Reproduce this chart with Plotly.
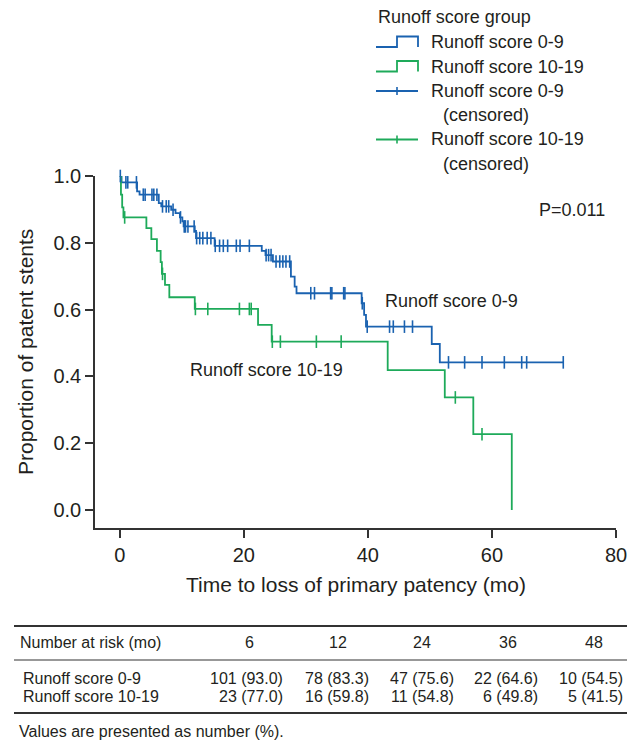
import plotly.graph_objects as go

# ---------------- data ----------------
# Runoff score 0-9: event step times (mo) and survival after each step
blue_t = [0, 0.3, 2.8, 3.2, 6.3, 6.7, 8.3, 9.0, 9.7, 10.1, 10.3, 12.1, 12.3, 15.3,
          22.9, 23.5, 24.7, 27.6, 28.2, 28.5, 39.0, 39.4, 39.7, 50.3, 51.6]
blue_s = [1.0, 0.981, 0.954, 0.944, 0.919, 0.909, 0.899, 0.889, 0.876, 0.864, 0.849,
          0.836, 0.814, 0.791, 0.776, 0.763, 0.744, 0.699, 0.669, 0.649, 0.619, 0.584,
          0.549, 0.497, 0.442]
blue_end = 71.5
blue_cens = [0.1, 1.0, 1.3, 2.7, 3.8, 4.1, 5.2, 5.5, 6.0, 6.9, 7.5, 7.9, 8.6, 9.8,
             10.4, 10.6, 11.0, 12.0, 12.4, 12.9, 13.4, 14.1, 14.7, 15.4, 16.1, 16.7,
             17.4, 18.8, 19.4, 20.9, 23.6, 24.0, 24.4, 25.2, 25.8, 26.3, 26.8, 27.4,
             30.8, 31.4, 34.0, 34.2, 36.1, 36.3, 39.1, 39.9, 43.5, 44.1, 45.9, 47.2,
             53.0, 55.6, 58.4, 62.0, 64.8, 65.6, 71.5]

# Runoff score 10-19
green_t = [0, 0.2, 0.4, 0.6, 4.3, 5.1, 6.0, 6.6, 6.8, 7.3, 8.0, 12.1, 22.3, 24.5,
           43.2, 52.4, 57.0, 63.2]
green_s = [1.0, 0.944, 0.906, 0.876, 0.844, 0.811, 0.776, 0.742, 0.707, 0.674, 0.637,
           0.602, 0.554, 0.504, 0.419, 0.337, 0.227, 0.0]
green_cens = [0.8, 6.9, 12.2, 14.2, 19.3, 20.9, 21.2, 24.6, 25.9, 31.7, 35.7, 54.1, 58.4]

x_ticks = [0, 20, 40, 60, 80]
y_ticks = [0.0, 0.2, 0.4, 0.6, 0.8, 1.0]

group_names = ["Runoff score 0-9", "Runoff score 10-19"]
risk_times = [6, 12, 24, 36, 48]
risk_n_09 = [101, 78, 47, 22, 10]
risk_pct_09 = [93.0, 83.3, 75.6, 64.6, 54.5]
risk_n_1019 = [23, 16, 11, 6, 5]
risk_pct_1019 = [77.0, 59.8, 54.8, 49.8, 41.5]
p_text = "P=0.011"

# ---------------- style ----------------
BLUE = "#1a62b0"
GREEN = "#1eaa5a"
AXC = "#333333"
TXT = "#231f20"
FONT = "Arial, Liberation Sans, sans-serif"

W, H = 640, 743
L, R, T, B = 95, 616, 176, 528


def px(x):
    return (x - L) / (R - L)


def py(y):
    return (B - y) / (B - T)


def surv_at(ts, ss, t):
    v = ss[0]
    for ti, si in zip(ts, ss):
        if ti <= t:
            v = si
    return v


fig = go.Figure()
fig.add_trace(go.Scatter(x=blue_t + [blue_end], y=blue_s + [blue_s[-1]], mode="lines",
                         line=dict(color=BLUE, width=1.8, shape="hv"),
                         cliponaxis=False, showlegend=False))
fig.add_trace(go.Scatter(x=green_t, y=green_s, mode="lines",
                         line=dict(color=GREEN, width=1.8, shape="hv"),
                         cliponaxis=False, showlegend=False))
fig.add_trace(go.Scatter(x=blue_cens, y=[surv_at(blue_t, blue_s, t) for t in blue_cens],
                         mode="markers",
                         marker=dict(symbol="line-ns", size=9, line=dict(width=1.6, color=BLUE)),
                         cliponaxis=False, showlegend=False))
fig.add_trace(go.Scatter(x=green_cens, y=[surv_at(green_t, green_s, t) for t in green_cens],
                         mode="markers",
                         marker=dict(symbol="line-ns", size=9, line=dict(width=1.6, color=GREEN)),
                         cliponaxis=False, showlegend=False))

ppu_x = (616 - 119.7) / 80.0
ppu_y = (510 - 176) / 1.0
x0 = -(119.7 - L) / ppu_x
y0 = -(B - 510) / ppu_y

fig.update_layout(
    width=W, height=H,
    margin=dict(l=L, r=W - R, t=T, b=H - B, pad=0),
    paper_bgcolor="white", plot_bgcolor="white",
    font=dict(family=FONT, color=TXT),
    xaxis=dict(range=[x0, 80], tickvals=x_ticks, showgrid=False, zeroline=False,
               showline=True, linecolor=AXC, linewidth=1.5, ticks="outside",
               ticklen=8, tickwidth=1.5, tickcolor=AXC,
               tickfont=dict(size=20, color=TXT, family=FONT)),
    yaxis=dict(range=[y0, 1.0], tickvals=y_ticks, tickformat=".1f", showgrid=False,
               zeroline=False, showline=True, linecolor=AXC, linewidth=1.5,
               ticks="outside", ticklen=8, tickwidth=1.5, tickcolor=AXC,
               tickfont=dict(size=20, color=TXT, family=FONT)),
)

ann = []
shapes = []


def text(x, y, s, size, anchor="left", **kw):
    ann.append(dict(x=px(x), y=py(y), xref="paper", yref="paper", text=s,
                    showarrow=False, xanchor=anchor, yanchor="middle",
                    font=dict(size=size, color=TXT, family=FONT), **kw))


def line(x1, y1, x2, y2, color, width):
    shapes.append(dict(type="line", xref="paper", yref="paper",
                       x0=px(x1), y0=py(y1), x1=px(x2), y1=py(y2),
                       line=dict(color=color, width=width)))


# axis titles
text(355.5, 584, "Time to loss of primary patency (mo)", 21, "center")
text(25, 352, "Proportion of patent stents", 21, "center", textangle=-90)

# in-plot labels
text(537, 210, p_text, 18)
text(383, 301, group_names[0], 18)
text(188, 370, group_names[1], 18)

# manual legend
text(376, 17, "Runoff score group", 18)
for yc, col in [(42, BLUE), (66.5, GREEN)]:
    path = "M {a},{b} L {c},{b} L {c},{d} L {e},{d} L {e},{b}".format(
        a=px(376), b=py(yc + 5), c=px(397), d=py(yc - 5.5), e=px(418))
    shapes.append(dict(type="path", xref="paper", yref="paper", path=path,
                       line=dict(color=col, width=1.8)))
text(429, 42, group_names[0], 18)
text(429, 66.5, group_names[1], 18)
for yc, col, nm in [(91, BLUE, group_names[0]), (139.5, GREEN, group_names[1])]:
    line(376, yc, 418, yc, col, 1.8)
    line(397, yc - 4, 397, yc + 4, col, 1.6)
    text(429, yc, nm, 18)
    text(441, yc + 24, "(censored)", 18)

# number-at-risk table
TF = 16
line(14, 626, 627, 626, AXC, 1.8)
line(14, 660, 627, 660, AXC, 1.2)
line(14, 713, 627, 713, AXC, 1.8)
text(18, 642, "Number at risk (mo)", TF)
col_right = [285, 371, 456, 540, 625]
col_center = [249, 338, 422, 508, 594]
for i, t in enumerate(risk_times):
    text(col_center[i], 642, str(t), TF, "center")
    text(col_right[i], 678, f"{risk_n_09[i]} ({risk_pct_09[i]:.1f})", TF, "right")
    text(col_right[i], 696, f"{risk_n_1019[i]} ({risk_pct_1019[i]:.1f})", TF, "right")
text(21, 678, group_names[0], TF)
text(21, 696, group_names[1], TF)
text(17, 731, "Values are presented as number (%).", TF)

fig.update_layout(annotations=ann, shapes=shapes)
fig.write_html("out.html")
